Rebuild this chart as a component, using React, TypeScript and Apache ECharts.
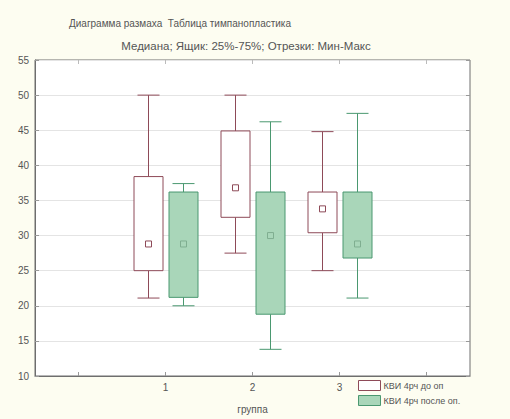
import React, { useEffect, useRef } from "react";
import * as echarts from "echarts";

const categories = ["", "1", "2", "3", ""];
const groupIndex = [1, 2, 3];
const seriesNames = ["КВИ 4рч до оп", "КВИ 4рч после оп."];

const beforeMin = [21.1, 27.5, 25.0];
const beforeQ1 = [25.0, 32.6, 30.4];
const beforeMedian = [28.8, 36.8, 33.8];
const beforeQ3 = [38.4, 44.9, 36.2];
const beforeMax = [50.0, 50.0, 44.8];

const afterMin = [20.0, 13.8, 21.1];
const afterQ1 = [21.2, 18.8, 26.8];
const afterMedian = [28.8, 30.0, 28.8];
const afterQ3 = [36.2, 36.2, 36.2];
const afterMax = [37.4, 46.2, 47.4];

const yTicks = [10, 15, 20, 25, 30, 35, 40, 45, 50, 55];

const RED = "#8e4a58";
const GREEN_BORDER = "#4a9870";
const GREEN_FILL = "#a9d6b9";
const FONT = "Liberation Sans, Arial, sans-serif";

function build(mins: number[], q1: number[], med: number[], q3: number[], max: number[]) {
  return groupIndex.map((g, i) => [g, mins[i], q1[i], med[i], q3[i], max[i]]);
}

function makeRender(offset: number, stroke: string, fill: string, markerStroke: string) {
  return (params: any, api: any) => {
    const idx = api.value(0);
    const pMin = api.coord([idx, api.value(1)]);
    const pQ1 = api.coord([idx, api.value(2)]);
    const pMed = api.coord([idx, api.value(3)]);
    const pQ3 = api.coord([idx, api.value(4)]);
    const pMax = api.coord([idx, api.value(5)]);
    const cx = Math.round(pMin[0] + offset) + 0.5;
    const bw = 29;
    const cw = 22;
    const ls = { stroke, lineWidth: 1 };
    return {
      type: "group",
      children: [
        { type: "line", shape: { x1: cx, y1: pMax[1], x2: cx, y2: pQ3[1] }, style: ls },
        { type: "line", shape: { x1: cx, y1: pQ1[1], x2: cx, y2: pMin[1] }, style: ls },
        { type: "line", shape: { x1: cx - cw / 2, y1: pMax[1], x2: cx + cw / 2, y2: pMax[1] }, style: ls },
        { type: "line", shape: { x1: cx - cw / 2, y1: pMin[1], x2: cx + cw / 2, y2: pMin[1] }, style: ls },
        {
          type: "rect",
          shape: { x: cx - bw / 2, y: pQ3[1], width: bw, height: pQ1[1] - pQ3[1] },
          style: { fill, stroke, lineWidth: 1 },
        },
        {
          type: "rect",
          shape: { x: cx - 3, y: pMed[1] - 3, width: 6, height: 6 },
          style: { fill: "none", stroke: markerStroke, lineWidth: 1 },
        },
      ],
    };
  };
}

export default function App() {
  const ref = useRef<HTMLDivElement>(null);
  useEffect(() => {
    if (!ref.current) return;
    const chart = echarts.init(ref.current, null, { renderer: "svg" });
    const axisLabel = { color: "#555", fontSize: 10, fontFamily: FONT };
    chart.setOption({
      animation: false,
      backgroundColor: "#fdfdf1",
      textStyle: { fontFamily: FONT },
      title: [
        {
          text: "Диаграмма размаха  Таблица тимпанопластика",
          left: 175,
          top: 13,
          textAlign: "center",
          textStyle: { fontSize: 10, fontWeight: "normal", color: "#555", fontFamily: FONT },
        },
        {
          text: "Медиана; Ящик: 25%-75%; Отрезки: Мин-Макс",
          left: 241,
          top: 35,
          textAlign: "center",
          textStyle: { fontSize: 11.5, fontWeight: "normal", color: "#555", fontFamily: FONT },
        },
      ],
      legend: {
        orient: "vertical",
        left: 353,
        top: 375,
        itemWidth: 22,
        itemHeight: 10,
        itemGap: 4,
        icon: "rect",
        textStyle: { fontSize: 9, color: "#555", fontFamily: FONT, padding: [0, 0, 0, -2] },
        data: [
          { name: seriesNames[0], itemStyle: { color: "#fff", borderColor: RED, borderWidth: 1 } },
          { name: seriesNames[1], itemStyle: { color: GREEN_FILL, borderColor: GREEN_BORDER, borderWidth: 1 } },
        ],
      },
      grid: {
        left: 35,
        right: 40,
        top: 60,
        bottom: 42,
        show: true,
        backgroundColor: "#ffffff",
        borderColor: "#6e6e6e",
        borderWidth: 1,
      },
      xAxis: [
        {
          type: "category",
          data: categories,
          boundaryGap: true,
          name: "группа",
          nameLocation: "middle",
          nameGap: 28,
          nameTextStyle: { color: "#555", fontSize: 10, fontFamily: FONT },
          axisLine: { show: true, lineStyle: { color: "#6e6e6e" } },
          axisTick: { show: true, inside: true, alignWithLabel: true, interval: 0, length: 4, lineStyle: { color: "#999" } },
          axisLabel: { ...axisLabel, margin: 6, interval: 0 },
          splitLine: { show: false },
        },
        {
          type: "category",
          data: categories,
          position: "top",
          boundaryGap: true,
          axisLine: { show: false },
          axisTick: { show: true, inside: true, alignWithLabel: true, interval: 0, length: 4, lineStyle: { color: "#bbb" } },
          axisLabel: { show: false },
        },
      ],
      yAxis: [
        {
          type: "value",
          min: 10,
          max: 55,
          interval: 5,
          axisLine: { show: true, lineStyle: { color: "#6e6e6e" } },
          axisTick: { show: true, inside: true, length: 4, lineStyle: { color: "#999" } },
          axisLabel: { ...axisLabel, margin: 6, formatter: (v: number) => (yTicks.includes(v) ? String(v) : "") },
          splitLine: { show: true, lineStyle: { color: "#e4e4e4", width: 1 } },
        },
        {
          type: "value",
          min: 10,
          max: 55,
          interval: 5,
          position: "right",
          axisLine: { show: false },
          axisTick: { show: true, inside: true, length: 4, lineStyle: { color: "#999" } },
          axisLabel: { show: false },
          splitLine: { show: false },
        },
      ],
      series: [
        {
          name: seriesNames[0],
          type: "custom",
          itemStyle: { color: "#fff", borderColor: RED },
          renderItem: makeRender(-17.5, RED, "#ffffff", RED),
          data: build(beforeMin, beforeQ1, beforeMedian, beforeQ3, beforeMax),
          encode: { x: 0, y: [1, 2, 3, 4, 5] },
        },
        {
          name: seriesNames[1],
          type: "custom",
          itemStyle: { color: GREEN_FILL, borderColor: GREEN_BORDER },
          renderItem: makeRender(17.5, GREEN_BORDER, GREEN_FILL, "#7fae90"),
          data: build(afterMin, afterQ1, afterMedian, afterQ3, afterMax),
          encode: { x: 0, y: [1, 2, 3, 4, 5] },
        },
      ],
    });
    return () => chart.dispose();
  }, []);
  return <div ref={ref} style={{ width: 510, height: 419, position: "absolute", left: 0, top: 0 }} />;
}
